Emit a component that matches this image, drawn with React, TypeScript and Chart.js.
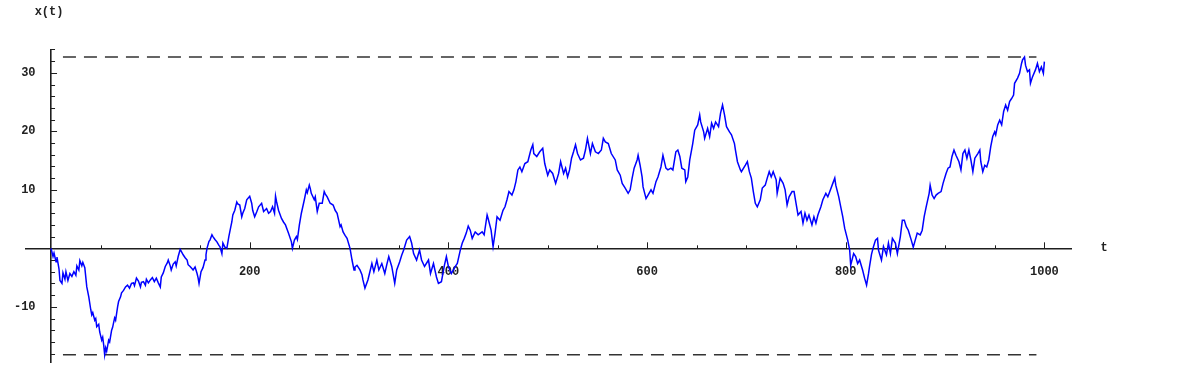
import React, { useEffect, useRef } from 'react';
import { Chart, registerables } from 'chart.js';

Chart.register(...registerables);

// Random-walk samples: [t, x(t)]
const walk: [number, number][] = [
  [0,0],[2,-1.4],[3,-0.8],[5,-2.3],[6,-1.5],[8,-3.5],[9,-5.5],[11,-6.0],[12,-4.2],[14,-5.3],[15,-4.0],[17,-5.5],[19,-4.3],[21,-4.8],[23,-4.0],[25,-4.6],[26,-3.0],[28,-3.7],[29,-2.1],[31,-3.0],[32,-2.4],[34,-3.3],
  [36,-6.6],[38,-8.3],[40,-10.5],[41,-11.4],[42,-11.0],[44,-12.3],[45,-12.0],[46,-13.4],[48,-13.0],[49,-14.3],[51,-15.7],[52,-15.2],[53,-16.5],[54,-18.2],[55,-17.0],[56,-17.6],[58,-15.7],[59,-16.0],
  [61,-14.0],[62,-13.5],[64,-11.9],[65,-12.3],[67,-10.0],[68,-9.1],[70,-8.3],[71,-7.6],[73,-7.2],[75,-6.6],[77,-6.3],[79,-6.8],[81,-6.0],[83,-5.9],[84,-6.4],[86,-5.1],[88,-5.6],[90,-6.6],[91,-5.8],
  [93,-5.7],[95,-6.3],[96,-5.3],[98,-5.9],[100,-5.4],[102,-5.0],[104,-5.7],[106,-5.1],[108,-5.9],[110,-6.6],[111,-4.9],[113,-4.2],[115,-3.1],[117,-2.5],[118,-2.0],[120,-3.0],[121,-3.7],[123,-2.7],
  [125,-2.3],[126,-3.0],[128,-1.4],[130,-0.2],[131,-0.5],[133,-1.1],[135,-1.6],[137,-2.0],[138,-2.8],[140,-3.1],[142,-3.5],[143,-3.7],[145,-3.2],[147,-4.3],[148,-5.0],[149,-6.0],[151,-4.0],[153,-3.3],
  [155,-2.0],[156,-1.1],[157,0],[159,1.2],[160,1.4],[162,2.3],[163,2.0],[165,1.5],[167,1.1],[169,0.5],[170,0.3],[172,-0.9],[173,0.9],[175,0.2],[177,0],[179,2.0],[181,3.7],[182,4.5],[183,5.7],[185,6.5],
  [187,7.9],[188,7.6],[190,7.4],[192,5.4],[193,6.0],[195,6.8],[197,8.3],[200,8.9],[202,7.7],[203,6.5],[205,5.4],[207,6.2],[209,7.1],[212,7.7],[214,6.3],[217,6.8],[219,6.0],[221,6.3],[223,7.1],[225,6.0],
  [226,8.9],[227,8.0],[229,6.5],[232,5.1],[234,4.5],[236,4.0],[239,2.6],[242,1.1],[243,0],[245,1.4],[247,2.0],[248,1.5],[250,4.0],[252,6.0],[255,8.3],[257,10.0],[258,9.5],[260,10.8],[261,10.2],[262,9.4],
  [265,8.3],[266,8.8],[268,6.3],[270,7.7],[273,7.7],[275,9.7],[276,9.3],[278,8.8],[281,7.7],[284,7.4],[286,6.5],[288,6.0],[291,3.7],[292,4.0],[294,2.8],[296,2.2],[298,1.7],[301,0],[303,-2.0],[305,-3.7],
  [306,-3.2],[308,-2.9],[311,-3.7],[313,-4.5],[314,-5.4],[316,-6.8],[319,-5.4],[321,-4.0],[323,-2.6],[325,-4.0],[328,-2.0],[330,-3.7],[333,-2.6],[336,-4.3],[338,-2.8],[340,-1.4],[343,-3.1],[346,-6.0],
  [348,-3.7],[351,-2.3],[353,-1.2],[355,-0.3],[358,1.4],[361,2.0],[363,0.9],[365,-0.9],[368,-2.0],[371,-0.3],[373,-2.0],[376,-3.1],[380,-2.0],[382,-4.3],[385,-2.6],[388,-4.9],[390,-6.0],[393,-5.7],
  [396,-2.9],[398,-1.4],[400,-3.1],[403,-4.3],[407,-3.1],[409,-2.6],[412,-0.3],[414,0.9],[416,1.7],[418,2.6],[420,3.8],[422,3.1],[424,1.7],[427,2.8],[430,2.3],[434,2.8],[436,2.3],[439,5.7],[440,5.1],
  [443,3.1],[445,0.3],[447,2.6],[449,5.4],[452,4.8],[455,6.5],[457,7.1],[459,8.3],[461,9.7],[464,9.1],[466,10.0],[468,11.4],[470,13.4],[472,13.9],[474,13.1],[477,14.5],[480,14.8],[483,16.8],[485,17.7],
  [486,16.2],[489,15.7],[492,16.5],[495,17.1],[497,14.5],[500,12.5],[502,13.4],[505,12.8],[508,11.1],[511,12.8],[513,14.8],[516,12.8],[518,13.7],[520,12.2],[522,13.4],[524,15.4],[526,16.5],[528,17.7],
  [530,16.2],[533,15.1],[536,15.4],[538,16.8],[540,18.8],[543,16.2],[545,17.9],[548,16.5],[551,16.2],[554,16.8],[556,18.8],[558,18.2],[561,17.9],[564,16.2],[568,15.1],[570,13.4],[573,12.5],[575,11.1],
  [578,10.3],[581,9.4],[583,10.0],[585,12.0],[587,13.7],[590,15.1],[591,15.9],[593,14.2],[595,12.2],[596,10.5],[599,8.5],[601,9.1],[604,10.0],[606,9.4],[609,11.4],[611,12.2],[614,13.9],[616,15.9],
  [619,13.7],[621,13.4],[624,13.7],[626,13.4],[629,16.5],[631,16.8],[633,15.7],[635,13.7],[638,13.4],[639,11.4],[641,12.2],[643,15.1],[646,17.9],[648,20.2],[651,21.1],[653,22.8],[654,21.6],[657,19.9],
  [658,18.8],[661,20.5],[663,19.1],[665,21.4],[667,20.5],[669,21.6],[672,20.8],[674,23.1],[676,24.5],[678,22.8],[680,20.8],[683,19.9],[685,19.4],[688,17.9],[689,16.8],[691,14.8],[694,13.4],[695,13.1],
  [699,14.2],[701,14.8],[703,13.1],[705,12.0],[707,9.7],[709,7.7],[711,7.1],[714,8.3],[716,10.3],[719,10.8],[721,12.0],[723,13.1],[725,12.2],[727,13.1],[730,11.7],[731,9.4],[734,12.0],[737,11.1],
  [739,10.0],[741,7.4],[743,8.8],[746,9.7],[748,9.7],[750,7.7],[752,5.7],[755,6.3],[757,4.3],[759,6.0],[761,4.8],[763,5.7],[766,4.0],[768,5.4],[770,4.3],[772,5.7],[775,7.1],[777,8.3],[780,9.4],[782,8.8],
  [784,9.7],[787,11.1],[789,12.0],[790,10.8],[793,8.8],[795,7.1],[797,5.4],[799,3.4],[802,1.4],[804,-0.3],[805,-2.9],[808,-0.9],[810,-1.4],[812,-2.6],[814,-2.0],[817,-3.7],[819,-5.1],[821,-6.3],
  [823,-4.3],[824,-3.1],[826,-1.0],[828,0.3],[830,1.4],[832,1.7],[833,-0.3],[834,-0.9],[836,-2.0],[838,0.3],[841,-1.1],[843,0.9],[845,-0.9],[847,1.7],[850,0.9],[852,-0.9],[855,2.0],[857,4.8],[859,4.8],
  [861,3.7],[863,3.1],[866,1.4],[868,0.2],[870,1.4],[872,2.6],[875,2.3],[877,3.1],[879,5.4],[881,7.1],[884,9.4],[885,10.8],[887,9.1],[889,8.5],[891,9.1],[893,9.4],[896,9.7],[898,11.1],[901,12.8],
  [903,13.7],[905,13.9],[907,15.7],[909,16.8],[911,15.9],[914,14.8],[916,13.4],[918,16.2],[920,16.8],[922,15.4],[924,16.8],[926,15.1],[928,13.1],[930,15.4],[933,16.2],[935,16.8],[936,14.8],[938,13.1],
  [940,14.2],[942,13.9],[944,15.1],[946,17.4],[948,19.1],[950,19.9],[951,19.4],[953,21.1],[955,21.9],[957,21.1],[959,23.4],[961,24.5],[963,23.6],[965,25.1],[967,25.6],[969,26.2],[970,28.2],[973,29.1],
  [975,29.9],[977,31.6],[978,32.2],[980,32.7],[981,31.3],[983,30.2],[985,30.5],[986,28.2],[988,29.3],[991,30.5],[993,31.6],[995,30.2],[997,31.0],[999,29.9],[1000,31.9]
];

// Axis ranges and ticks
const xRange = [-25, 1027];
const yRange = [-19.5, 34];
const xLabelTicks = [200, 400, 600, 800, 1000];
const yLabelTicks = [-10, 10, 20, 30];
const xMinorTicks = [50, 100, 150, 200, 250, 300, 350, 400, 450, 500, 550, 600, 650, 700, 750, 800, 850, 900, 950, 1000];
const yMinorTicks = [-18, -16, -14, -12, -10, -8, -6, -4, -2, 2, 4, 6, 8, 10, 12, 14, 16, 18, 20, 22, 24, 26, 28, 30, 32, 34];
const dashSpanT = [12, 992];
const yLabelAnchorT = -15.6;
const axisTitleX = 't';
const axisTitleY = 'x(t)';

const AXIS_COLOR = '#1e1e1e';
const LABEL_COLOR = '#222222';
const LINE_COLOR = '#0000ff';
const FONT_FAMILY = '"Liberation Mono", "DejaVu Sans Mono", monospace';
const FONT = 'bold 12px ' + FONT_FAMILY;

const walkMax = Math.max(...walk.map((p) => p[1]));
const walkMin = Math.min(...walk.map((p) => p[1]));

const noPadding = (scale: any) => {
  scale.paddingLeft = 0;
  scale.paddingRight = 0;
  scale.paddingTop = 0;
  scale.paddingBottom = 0;
};

const axisDecor = {
  id: 'axisDecor',
  beforeDatasetsDraw(chart: any) {
    const { ctx, scales } = chart;
    const xs = scales.x;
    const ys = scales.y;
    const x0 = xs.getPixelForValue(0);
    const y0 = ys.getPixelForValue(0);
    ctx.save();
    ctx.strokeStyle = AXIS_COLOR;
    ctx.lineWidth = 1;
    ctx.beginPath();
    xMinorTicks.forEach((t) => {
      const px = Math.round(xs.getPixelForValue(t)) + 0.5;
      const len = xLabelTicks.includes(t) ? 6 : 3;
      ctx.moveTo(px, y0);
      ctx.lineTo(px, y0 - len);
    });
    yMinorTicks.forEach((v) => {
      const py = Math.round(ys.getPixelForValue(v)) + 0.5;
      const len = v % 10 === 0 ? 6 : 4;
      ctx.moveTo(x0, py);
      ctx.lineTo(x0 + len, py);
    });
    ctx.stroke();
    ctx.fillStyle = LABEL_COLOR;
    ctx.font = FONT;
    ctx.textAlign = 'center';
    ctx.textBaseline = 'middle';
    ctx.fillText(axisTitleY, x0 - 2, chart.chartArea.top - 37);
    ctx.fillText(axisTitleX, xs.getPixelForValue(1060), y0);
    ctx.restore();
  },
};

export default function App() {
  const canvasRef = useRef<HTMLCanvasElement | null>(null);

  useEffect(() => {
    document.body.style.margin = '0';
    const canvas = canvasRef.current;
    if (!canvas) return;
    const tickFont = { family: FONT_FAMILY, size: 12, weight: 'bold' };
    const chart = new Chart(canvas, {
      type: 'line',
      data: {
        datasets: [
          {
            label: 'x(t)',
            data: walk.map(([t, v]) => ({ x: t, y: v })),
            borderColor: LINE_COLOR,
            borderWidth: 1.5,
            pointRadius: 0,
            tension: 0,
            fill: false,
          },
          {
            label: 'max',
            data: dashSpanT.map((t) => ({ x: t, y: walkMax })),
            borderColor: '#333333',
            borderWidth: 1.6,
            borderDash: [13, 8],
            pointRadius: 0,
            fill: false,
          },
          {
            label: 'min',
            data: dashSpanT.map((t) => ({ x: t, y: walkMin })),
            borderColor: '#333333',
            borderWidth: 1.6,
            borderDash: [13, 8],
            pointRadius: 0,
            fill: false,
          },
        ],
      },
      options: {
        responsive: false,
        animation: false,
        devicePixelRatio: 1,
        layout: { padding: { left: 26.2, right: 128.8, top: 49.4, bottom: 10.6 } },
        plugins: { legend: { display: false }, tooltip: { enabled: false }, title: { display: false } },
        scales: {
          x: {
            type: 'linear',
            min: xRange[0],
            max: xRange[1],
            position: { y: 0 },
            grid: { display: false, drawTicks: false },
            border: { display: true, color: AXIS_COLOR, width: 1.6 },
            afterBuildTicks: (scale: any) => {
              scale.ticks = xLabelTicks.map((v) => ({ value: v }));
            },
            afterFit: noPadding,
            ticks: {
              padding: 16.5,
              color: LABEL_COLOR,
              font: tickFont,
              maxRotation: 0,
              autoSkip: false,
              callback: (value: any) => String(value),
            },
          },
          y: {
            type: 'linear',
            min: yRange[0],
            max: yRange[1],
            position: { x: 0 },
            grid: { display: false, drawTicks: false },
            border: { display: true, color: AXIS_COLOR, width: 1.6 },
            afterFit: noPadding,
            ticks: { display: false },
          },
          yLabels: {
            type: 'linear',
            axis: 'y',
            min: yRange[0],
            max: yRange[1],
            position: { x: yLabelAnchorT },
            grid: { display: false, drawTicks: false },
            border: { display: false },
            afterBuildTicks: (scale: any) => {
              scale.ticks = yLabelTicks.map((v) => ({ value: v }));
            },
            afterFit: noPadding,
            ticks: {
              padding: 0,
              color: LABEL_COLOR,
              font: tickFont,
              autoSkip: false,
              callback: (value: any) => String(value),
            },
          },
        },
      },
      plugins: [axisDecor],
    } as any);
    return () => chart.destroy();
  }, []);

  return (
    <div style={{ width: 1200, height: 373, background: '#ffffff' }}>
      <canvas ref={canvasRef} width={1200} height={373} style={{ display: 'block' }} />
    </div>
  );
}
